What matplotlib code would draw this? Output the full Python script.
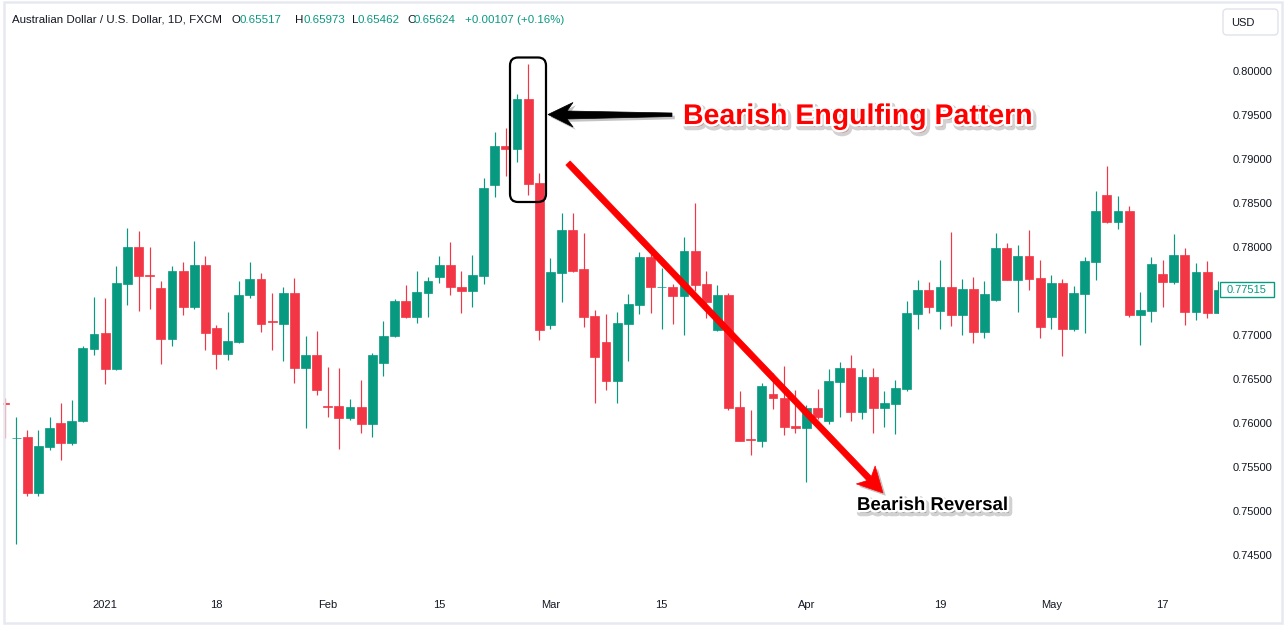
import numpy as np
import pandas as pd
import matplotlib
matplotlib.use("Agg")
import matplotlib.pyplot as plt
from matplotlib.patches import Polygon, FancyBboxPatch, Rectangle
import matplotlib.patheffects as pe

W, H, DPI = 1284, 625, 100
GREEN = "#089981"
RED = "#F23645"
TXT = "#131722"
FONT = "Liberation Sans"

# ---------------- data ----------------
start_date = "2020-12-22"
opens = [0.76225, 0.75825, 0.7584, 0.7521, 0.7573, 0.7600, 0.7577, 0.7602, 0.7684, 0.7702,
         0.7661, 0.7758, 0.7800, 0.77685, 0.7753, 0.7696, 0.7773, 0.7732, 0.7780, 0.7708,
         0.7678, 0.7692, 0.7745, 0.7764, 0.7716, 0.7713, 0.7748, 0.7662, 0.7677, 0.76195,
         0.7619, 0.7606, 0.7618, 0.7599, 0.7668, 0.7699, 0.7739, 0.7721, 0.7748, 0.7766,
         0.7780, 0.7755, 0.7750, 0.7767, 0.7871, 0.7915, 0.7911, 0.7968, 0.7873, 0.7711,
         0.7771, 0.7819, 0.7775, 0.7722, 0.7692, 0.7648, 0.7713, 0.7734, 0.7789, 0.77540,
         0.7755, 0.7744, 0.7796, 0.7758, 0.7706, 0.7746, 0.7618, 0.75815, 0.7579, 0.7633,
         0.7628, 0.7597, 0.7594, 0.7617, 0.7602, 0.7647, 0.7662, 0.7612, 0.7652, 0.7617,
         0.7622, 0.7639, 0.7724, 0.7751, 0.7727, 0.7755, 0.7723, 0.7752, 0.7703, 0.7740,
         0.7799, 0.7763, 0.7790, 0.7765, 0.7721, 0.7759, 0.7707, 0.7747, 0.7783, 0.7859,
         0.7828, 0.7841, 0.7723, 0.7727, 0.7769, 0.7760, 0.7791, 0.7726, 0.7772, 0.7725]
highs = [0.7628, 0.7607, 0.7592, 0.7592, 0.7607, 0.7623, 0.7626, 0.7688, 0.7743, 0.7742,
         0.7778, 0.7822, 0.7818, 0.7800, 0.7761, 0.7778, 0.7783, 0.7807, 0.7790, 0.7711,
         0.7726, 0.7761, 0.7783, 0.7771, 0.7748, 0.7755, 0.7765, 0.7699, 0.7705, 0.7664,
         0.7663, 0.7627, 0.7649, 0.7680, 0.7716, 0.7741, 0.7757, 0.7773, 0.7766, 0.7790,
         0.7806, 0.7773, 0.7791, 0.7878, 0.7931, 0.7935, 0.7974, 0.8008, 0.7884, 0.7788,
         0.7839, 0.7839, 0.7816, 0.7728, 0.7724, 0.7726, 0.7747, 0.7794, 0.7792, 0.7776,
         0.7758, 0.7811, 0.7850, 0.7773, 0.7757, 0.7748, 0.7636, 0.7615, 0.7646, 0.7657,
         0.7665, 0.7638, 0.7621, 0.7639, 0.7661, 0.7669, 0.7677, 0.7661, 0.7663, 0.7636,
         0.7649, 0.7739, 0.7763, 0.7760, 0.7785, 0.7817, 0.7764, 0.7766, 0.7761, 0.7816,
         0.7805, 0.7802, 0.7819, 0.7785, 0.7768, 0.7764, 0.7756, 0.7789, 0.7864, 0.7892,
         0.7858, 0.7847, 0.7749, 0.7789, 0.7785, 0.7815, 0.7799, 0.7782, 0.7784, 0.7761]
lows = [0.7583, 0.7463, 0.7517, 0.7517, 0.7569, 0.7558, 0.7575, 0.7601, 0.7677, 0.7644,
        0.7660, 0.7734, 0.7727, 0.7730, 0.7667, 0.7688, 0.7723, 0.7730, 0.7683, 0.7661,
        0.7672, 0.7691, 0.7742, 0.7703, 0.7683, 0.7670, 0.7645, 0.7594, 0.7632, 0.7607,
        0.7570, 0.7603, 0.7589, 0.7584, 0.7653, 0.7698, 0.7719, 0.7714, 0.7720, 0.7759,
        0.7746, 0.7725, 0.7732, 0.7758, 0.7857, 0.7881, 0.7897, 0.7859, 0.7694, 0.7707,
        0.7737, 0.7772, 0.7709, 0.7623, 0.7638, 0.7623, 0.7670, 0.7724, 0.7725, 0.7707,
        0.7712, 0.7700, 0.7750, 0.7719, 0.7705, 0.7615, 0.7579, 0.7564, 0.7573, 0.7616,
        0.7586, 0.7589, 0.7533, 0.7604, 0.7599, 0.7607, 0.7602, 0.7604, 0.7589, 0.7596,
        0.7587, 0.7636, 0.7707, 0.7725, 0.7707, 0.7710, 0.7700, 0.7691, 0.7697, 0.7739,
        0.7762, 0.7726, 0.7751, 0.7697, 0.7707, 0.7676, 0.7705, 0.7702, 0.7763, 0.7827,
        0.7821, 0.7721, 0.7689, 0.7715, 0.7732, 0.7758, 0.7711, 0.7717, 0.7719, 0.7725]
closes = [0.76212, 0.75835, 0.7521, 0.7574, 0.7594, 0.7577, 0.7602, 0.7685, 0.7701, 0.7661,
          0.7759, 0.7800, 0.7767, 0.77675, 0.7696, 0.7773, 0.7732, 0.7780, 0.7702, 0.7678,
          0.7693, 0.7746, 0.7764, 0.7712, 0.7715, 0.7748, 0.7662, 0.7677, 0.7638, 0.76185,
          0.7606, 0.7618, 0.7599, 0.7677, 0.7699, 0.7739, 0.7721, 0.7749, 0.7761, 0.7780,
          0.7754, 0.7750, 0.7768, 0.7867, 0.7915, 0.7911, 0.7968, 0.7872, 0.7706, 0.7772,
          0.7819, 0.7773, 0.7721, 0.7675, 0.7648, 0.7714, 0.7735, 0.7789, 0.7754, 0.77550,
          0.7744, 0.7796, 0.7757, 0.7738, 0.7746, 0.7617, 0.7580, 0.75805, 0.7642, 0.7628,
          0.7596, 0.7594, 0.7617, 0.7607, 0.7648, 0.7662, 0.7612, 0.7652, 0.7617, 0.7623,
          0.7640, 0.7725, 0.7751, 0.7732, 0.7755, 0.7723, 0.7752, 0.7703, 0.7747, 0.7799,
          0.7763, 0.7790, 0.7764, 0.7709, 0.7759, 0.7707, 0.7748, 0.7784, 0.7841, 0.7828,
          0.7841, 0.7723, 0.7728, 0.7781, 0.7760, 0.7791, 0.7726, 0.7772, 0.7725, 0.77515]

tick_dates = ["2021-01-04", "2021-01-18", "2021-02-01", "2021-02-15", "2021-03-01",
              "2021-03-15", "2021-04-01", "2021-04-19", "2021-05-03", "2021-05-17"]
tick_labels = ["2021", "18", "Feb", "15", "Mar", "15", "Apr", "19", "May", "17"]
price_ticks = [0.745, 0.750, 0.755, 0.760, 0.765, 0.770, 0.775, 0.780, 0.785, 0.790, 0.795, 0.800]
last_price = 0.77515

header_name = "Australian Dollar / U.S. Dollar, 1D, FXCM"
ohlc_keys = ["O", "H", "L", "C"]
ohlc_vals = ["0.65517", "0.65973", "0.65462", "0.65624"]
header_change = "+0.00107 (+0.16%)"
title_main = "Bearish Engulfing Pattern"
title_sub = "Bearish Reversal"

# ---------------- figure ----------------
o = np.array(opens); h = np.array(highs); l = np.array(lows); c = np.array(closes)
dates = pd.bdate_range(start_date, periods=len(o))
x = np.arange(len(o))

fig = plt.figure(figsize=(W / DPI, H / DPI), dpi=DPI, facecolor="white")
ax = fig.add_axes([3 / W, (H - 590) / H, (1219 - 3) / W, (590 - 3) / H])
ax.set_facecolor("white")

cols = np.where(c >= o, GREEN, RED)
ax.vlines(x, l, h, colors=cols, linewidth=0.85, zorder=2)
ax.bar(x, np.abs(c - o), bottom=np.minimum(o, c), width=0.8, color=cols,
       edgecolor=cols, linewidth=0.5, zorder=3)

ax.set_xlim(-0.18, 109.07)
ax.set_ylim(0.741023, 0.807727)

tick_pos = [dates.get_loc(pd.Timestamp(d)) for d in tick_dates]
ax.set_xticks(tick_pos)
ax.set_xticklabels(tick_labels, fontsize=8, color=TXT, family=FONT)
ax.yaxis.tick_right()
# the tick hidden behind the last-price label is not shown
shown_ticks = [p for p in price_ticks if abs(p - last_price) > 0.001]
ax.set_yticks(shown_ticks)
ax.set_yticklabels([f"{p:.5f}" for p in shown_ticks], fontsize=8, color=TXT, family=FONT)
ax.tick_params(axis="x", length=0, pad=7)
ax.tick_params(axis="y", length=0, pad=9.5)
for s in ax.spines.values():
    s.set_visible(False)

# ---------------- overlay (pixel coordinates) ----------------
ov = fig.add_axes([0, 0, 1, 1], zorder=10)
ov.set_xlim(0, W)
ov.set_ylim(H, 0)
ov.axis("off")
ov.patch.set_alpha(0)

# outer frame
ov.add_patch(Rectangle((3.5, 1.5), 1278.5, 621, fill=False, ec="#e6e9f0", lw=1.8))

# header
hy = 20
HF = 8.25
ov.text(12, hy, header_name, fontsize=HF, color=TXT, family=FONT, va="center")
key_x = [232, 295, 352, 407]
val_x = [239, 303, 358, 414]
for k, v, kx, vx in zip(ohlc_keys, ohlc_vals, key_x, val_x):
    ov.text(kx, hy, k, fontsize=HF, color=TXT, family=FONT, va="center")
    ov.text(vx, hy, v, fontsize=HF, color=GREEN, family=FONT, va="center")
ov.text(465, hy, header_change, fontsize=HF, color=GREEN, family=FONT, va="center")

# USD box
ov.add_patch(FancyBboxPatch((1223, 9), 55, 26, boxstyle="round,pad=0,rounding_size=4",
                            fc="white", ec="#e0e3eb", lw=1))
ov.text(1231, 22.5, "USD", fontsize=8, color=TXT, family=FONT, va="center")

# last price label
yp = H - ax.transData.transform((0, last_price))[1]
ov.add_patch(Rectangle((1219.5, yp - 7.5), 54.5, 15, fc="white", ec=GREEN, lw=1))
ov.text(1247, yp, f"{last_price:.5f}", fontsize=8, color=GREEN, family=FONT,
        ha="center", va="center")

shadow = [pe.SimplePatchShadow(offset=(2, -2), shadow_rgbFace="#555555", alpha=0.35), pe.Normal()]

# rounded rectangle around engulfing candles
ov.add_patch(FancyBboxPatch((510, 57.5), 36, 144.5, boxstyle="round,pad=0,rounding_size=8",
                            fill=False, ec="black", lw=1.6, zorder=5))

# black arrow
black_arrow = [(548, 114.5), (573, 102.5), (567, 111), (672, 113), (672, 116.5),
               (567, 119), (573, 127)]
ov.add_patch(Polygon(black_arrow, closed=True, fc="black", ec="black", lw=0.5,
                     path_effects=shadow, zorder=6))

# red arrow
S = np.array([568.0, 163.0]); T = np.array([883.0, 493.0])
u = (T - S) / np.linalg.norm(T - S)
n = np.array([-u[1], u[0]])
L, hw, sw = 25.0, 13.0, 3.0
base = T - u * L
notch = T - u * (L - 5)
red_arrow = [S + n * sw, notch + n * sw, base + n * hw, T, base - n * hw, notch - n * sw, S - n * sw]
ov.add_patch(Polygon(red_arrow, closed=True, fc="#ff0000", ec="#ff0000", lw=0.5,
                     path_effects=shadow, zorder=6))

text_fx = [pe.Stroke(linewidth=5, foreground="#9a9a9a", alpha=0.45, offset=(1.5, -2)),
           pe.Stroke(linewidth=3.5, foreground="white"), pe.Normal()]
ov.text(683, 124, title_main, fontsize=20.5, fontweight="bold", family=FONT,
        color="#ff0000", va="baseline", ha="left", path_effects=text_fx, zorder=7)
ov.text(857, 510, title_sub, fontsize=13.4, fontweight="bold", family=FONT,
        color="black", va="baseline", ha="left", path_effects=text_fx, zorder=7)

fig.savefig("out.png", dpi=DPI, facecolor="white")
